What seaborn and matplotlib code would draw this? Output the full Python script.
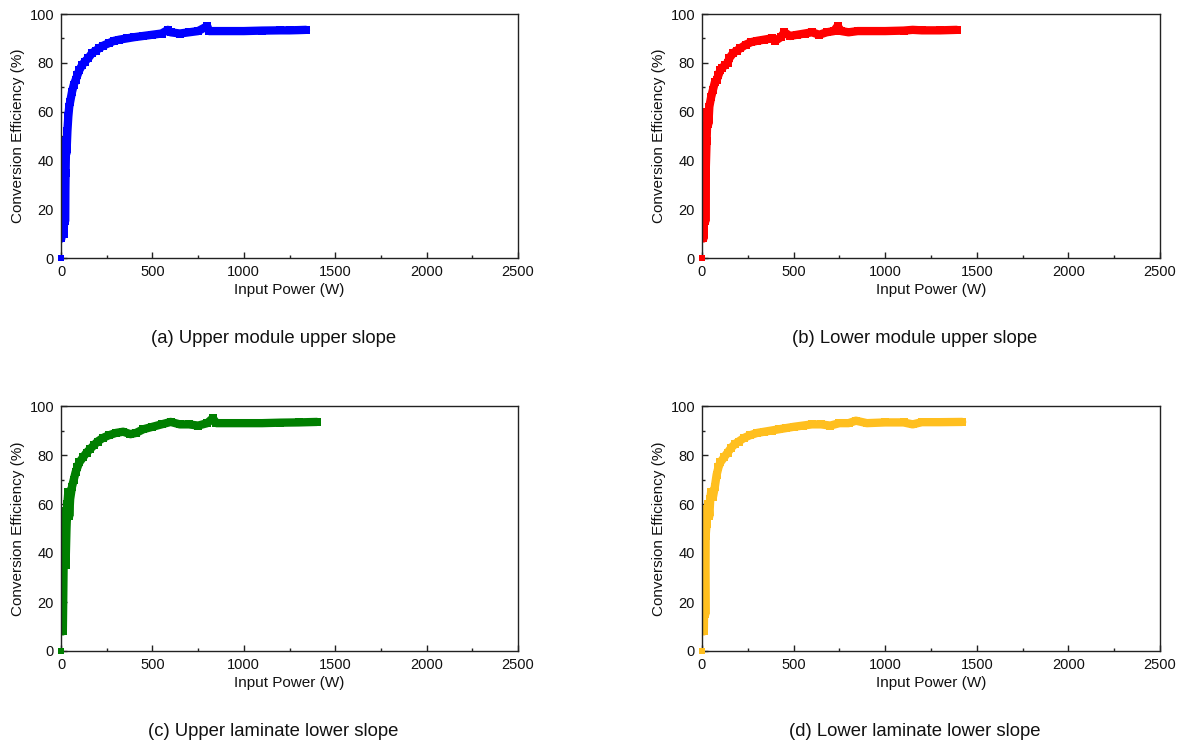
import numpy as np
import pandas as pd
import matplotlib
matplotlib.use('Agg')
import matplotlib.pyplot as plt
from matplotlib.ticker import MultipleLocator
import seaborn as sns

sns.set_style('ticks')
plt.rcParams['font.family'] = ['Liberation Sans', 'DejaVu Sans']
plt.rcParams['xtick.direction'] = 'in'
plt.rcParams['ytick.direction'] = 'in'

# ----------------------------
# data
# ----------------------------
a_power = [0, 2, 4, 6, 8, 10, 12, 15, 18, 20, 22, 25, 28, 30, 35, 40, 45, 50, 60, 70,
           80, 90, 100, 115, 130, 150, 170, 190, 210, 230, 260, 290, 320, 360, 400, 450,
           500, 550, 585, 600, 650, 700, 750, 800, 810, 850, 900, 1000, 1100, 1200, 1250,
           1300, 1340]
a_eff = [0, 8, 25, 45, 12, 30, 48, 10, 22, 40, 15, 35, 48, 43, 52, 58, 62, 64, 68, 71,
         73, 75, 77, 79, 80.5, 82, 84, 85, 86, 87, 88, 89, 89.5, 90, 90.5, 91,
         91.5, 92, 93.5, 92.5, 92, 92.5, 93, 95, 93, 93, 93, 93, 93.2, 93.3, 93.3,
         93.4, 93.5]

b_power = [0, 3, 5, 8, 10, 12, 15, 18, 20, 25, 30, 35, 40, 50, 60, 70, 80, 90, 100, 110,
           125, 140, 150, 170, 190, 210, 240, 270, 300, 340, 380, 400, 430, 450, 480, 520,
           560, 600, 640, 680, 720, 740, 760, 800, 850, 900, 1000, 1100, 1150, 1200, 1300,
           1390]
b_eff = [0, 12, 30, 8, 20, 40, 52, 15, 35, 48, 60, 55, 62, 66, 69, 72, 73, 75, 77, 78,
         79, 80, 82, 84, 85, 86, 87.5, 88.5, 89, 89.5, 90, 89, 90.5, 92.5, 91, 91.5,
         92, 92.5, 91.5, 92.5, 93, 95, 93, 92.5, 93, 93, 93, 93.2, 93.5, 93.3, 93.3,
         93.5]

c_power = [0, 2, 5, 8, 10, 12, 15, 18, 20, 25, 30, 35, 40, 45, 50, 60, 70, 80, 90, 100,
           120, 140, 160, 180, 200, 230, 260, 300, 340, 380, 410, 450, 500, 550, 600, 650,
           700, 750, 800, 830, 850, 900, 1000, 1100, 1200, 1300, 1400]
c_eff = [0, 10, 25, 45, 8, 20, 40, 55, 57, 35, 50, 60, 65, 55, 62, 67, 70, 73, 75, 77,
         79, 81, 82.5, 84, 85.5, 87, 88, 89, 89.5, 88.5, 89, 90.5, 91.5, 92.5, 93.5, 92.5,
         92.5, 92, 93, 95, 93, 93, 93, 93, 93.2, 93.3, 93.5]

d_power = [0, 2, 5, 8, 10, 12, 15, 18, 20, 25, 30, 35, 40, 45, 50, 60, 70, 80, 90, 100,
           120, 140, 160, 180, 200, 230, 260, 300, 340, 380, 420, 460, 500, 550, 600, 650,
           700, 750, 800, 840, 900, 1000, 1100, 1150, 1200, 1300, 1420]
d_eff = [0, 12, 30, 45, 8, 20, 38, 15, 47, 52, 58, 60, 55, 62, 65, 63, 67, 72, 75, 77,
         79, 81, 83, 84.5, 85.5, 87, 88, 89, 89.5, 90, 90.5, 91, 91.5, 92, 92.5, 92.5,
         92, 93, 93, 94, 93, 93.3, 93.3, 92.5, 93.4, 93.4, 93.5]

captions = ["(a) Upper module upper slope", "(b) Lower module upper slope",
            "(c) Upper laminate lower slope", "(d) Lower laminate lower slope"]
colors = ['#0000ff', '#ff0000', '#007f00', '#ffbf1f']
series = [(a_power, a_eff), (b_power, b_eff), (c_power, c_eff), (d_power, d_eff)]

# ----------------------------
# layout
# ----------------------------
fig = plt.figure(figsize=(11.87, 7.43), dpi=100)
W, H = 1187, 743
boxes = [(61, 14, 518, 258), (702, 14, 1160, 258),
         (61, 406, 518, 651), (702, 406, 1160, 651)]

for (x0, y0, x1, y1), (pw, ef), col, cap in zip(boxes, series, colors, captions):
    ax = fig.add_axes([x0 / W, 1 - y1 / H, (x1 - x0) / W, (y1 - y0) / H])
    df = pd.DataFrame({'power': pw, 'eff': ef})
    # the zero-power sample sits alone at the origin
    sns.lineplot(data=df.iloc[1:], x='power', y='eff', sort=False, color=col,
                 linewidth=6, marker='s', markersize=6, markeredgewidth=0, ax=ax)
    sns.scatterplot(data=df.iloc[:1], x='power', y='eff', color=col, marker='s',
                    s=25, linewidth=0, ax=ax, clip_on=False, zorder=5)
    ax.set_xlim(0, 2500)
    ax.set_ylim(0, 100)
    ax.xaxis.set_major_locator(MultipleLocator(500))
    ax.xaxis.set_minor_locator(MultipleLocator(250))
    ax.yaxis.set_major_locator(MultipleLocator(20))
    ax.yaxis.set_minor_locator(MultipleLocator(10))
    ax.tick_params(which='major', length=4.3, width=1, labelsize=10.5, pad=5,
                   color='#222222', labelcolor='#111111')
    ax.tick_params(which='minor', length=2.4, width=1, color='#222222')
    ax.set_xlabel('Input Power (W)', fontsize=11, labelpad=3, color='#111111')
    ax.set_ylabel('Conversion Efficiency (%)', fontsize=11, labelpad=3, color='#111111')
    for s in ax.spines.values():
        s.set_linewidth(1)
        s.set_color('#222222')
    cx = ((x0 + x1) / 2 - 16) / W
    fig.text(cx, 1 - (y1 + 80) / H, cap, ha='center', va='center', fontsize=13.3,
             color='#111111')

fig.savefig('out.png', dpi=100)
